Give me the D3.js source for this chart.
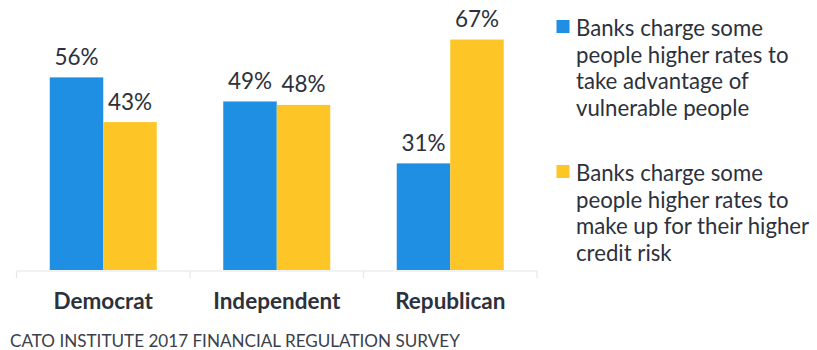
<!DOCTYPE html>
<html>
<head>
<meta charset="utf-8">
<script src="https://cdn.jsdelivr.net/npm/d3@7"></script>
<style>
  html, body { margin: 0; padding: 0; background: #fff; }
  svg { display: block; font-family: Lato, "Open Sans", sans-serif; }
</style>
</head>
<body>
<svg id="chart" width="817" height="350"></svg>
<script>
const categories = ["Democrat", "Independent", "Republican"];
const takeAdvantage = [56, 49, 31];
const creditRisk = [43, 48, 67];
const seriesNames = [
  "Banks charge some people higher rates to take advantage of vulnerable people",
  "Banks charge some people higher rates to make up for their higher credit risk"
];
const legendLines1 = ["Banks charge some", "people higher rates to", "take advantage of", "vulnerable people"];
const legendLines2 = ["Banks charge some", "people higher rates to", "make up for their higher", "credit risk"];
const colors = ["#1e8fe3", "#fdc526"];
const footer = "CATO INSTITUTE 2017 FINANCIAL REGULATION SURVEY";

const svg = d3.select("#chart");
const textColor = "#2c313c";

const x0 = d3.scaleBand().domain(categories).range([16.5, 537]);
const barW = 53.5;
const x1 = d3.scaleBand().domain([0, 1]).range([0, barW * 2]);
const y = d3.scaleLinear().domain([0, 78.5]).range([270, 0]);

const data = [];
categories.forEach((c, i) => {
  data.push({ cat: c, s: 0, v: takeAdvantage[i] });
  data.push({ cat: c, s: 1, v: creditRisk[i] });
});
const bx = d => x0(d.cat) + (x0.bandwidth() - barW * 2) / 2 + x1(d.s);

// axis line and boundary ticks
const axisG = svg.append("g").attr("transform", "translate(0,271)");
const axis = d3.axisBottom(x0).tickSize(0).tickFormat("");
axisG.call(axis);
axisG.select(".domain").attr("stroke", "#e6e6e6").attr("stroke-width", 1.2)
  .attr("d", `M${x0.range()[0]},0H${x0.range()[1]}`);
const edges = categories.map(c => x0(c)).concat([x0.range()[1]]);
axisG.selectAll("line.edge").data(edges).enter().append("line")
  .attr("class", "edge")
  .attr("x1", d => d).attr("x2", d => d)
  .attr("y1", 0).attr("y2", 7)
  .attr("stroke", "#e6e6e6").attr("stroke-width", 1.2);

// bars
svg.append("g").selectAll("rect").data(data).enter().append("rect")
  .attr("x", bx)
  .attr("width", x1.bandwidth())
  .attr("y", d => y(d.v))
  .attr("height", d => y(0) - y(d.v))
  .attr("fill", d => colors[d.s]);

// value labels
svg.append("g").selectAll("text").data(data).enter().append("text")
  .attr("x", d => bx(d) + x1.bandwidth() / 2)
  .attr("y", d => y(d.v) - 12.5)
  .attr("text-anchor", "middle")
  .attr("font-size", 22.5)
  .attr("fill", textColor)
  .text(d => d.v + "%");

// category labels
svg.append("g").selectAll("text").data(categories).enter().append("text")
  .attr("x", d => x0(d) + x0.bandwidth() / 2)
  .attr("y", 308.5)
  .attr("text-anchor", "middle")
  .attr("font-size", 22.5)
  .attr("font-weight", 700)
  .attr("fill", textColor)
  .text(d => d);

// legend
const legendData = [
  { lines: legendLines1, color: colors[0], y: 36, name: seriesNames[0] },
  { lines: legendLines2, color: colors[1], y: 181, name: seriesNames[1] }
];
const lg = svg.append("g").selectAll("g").data(legendData).enter().append("g");
lg.append("rect")
  .attr("x", 556.5).attr("y", d => d.y - 16)
  .attr("width", 13).attr("height", 13)
  .attr("fill", d => d.color);
lg.append("text")
  .attr("font-size", 22.2)
  .attr("fill", textColor)
  .each(function(d) {
    d3.select(this).selectAll("tspan").data(d.lines).enter().append("tspan")
      .attr("x", 576)
      .attr("y", (l, i) => d.y + i * 26.5)
      .text(l => l);
  });

// footer
svg.append("text")
  .attr("x", 10).attr("y", 346.5)
  .attr("font-size", 17.1)
  .attr("fill", "#3a404b")
  .text(footer);
</script>
</body>
</html>
